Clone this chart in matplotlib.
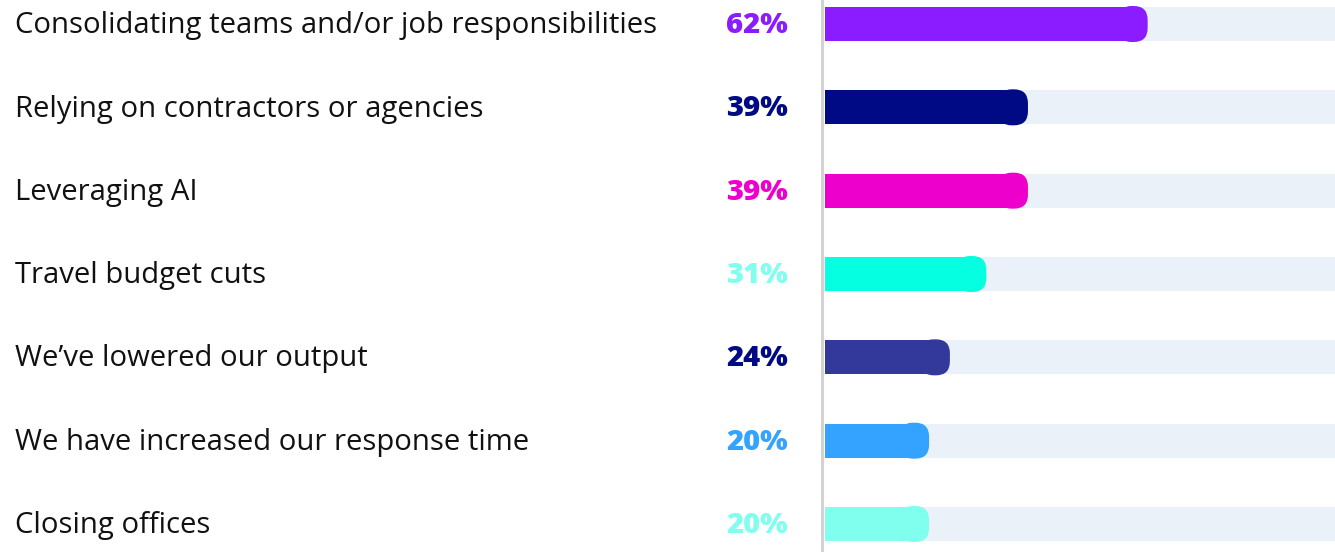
import matplotlib.pyplot as plt
from matplotlib.patches import Rectangle, FancyBboxPatch
from matplotlib.transforms import blended_transform_factory

categories = [
    "Consolidating teams and/or job responsibilities",
    "Relying on contractors or agencies",
    "Leveraging AI",
    "Travel budget cuts",
    "We\u2019ve lowered our output",
    "We have increased our response time",
    "Closing offices",
]
values = [62, 39, 39, 31, 24, 20, 20]
bar_colors = ["#8A1CFF", "#000A85", "#EE00CC", "#05FFE1", "#33399A", "#33A3FF", "#80FFEF"]
label_colors = ["#8A1CFF", "#000A85", "#EE00CC", "#80FFEF", "#000A85", "#33A3FF", "#80FFEF"]

track_color = "#EAF1F9"
W, H = 1335, 552

fig = plt.figure(figsize=(W / 100, H / 100), dpi=100)
ax = fig.add_axes([825 / W, 0, (W - 825) / W, 1])
ax.set_xlim(0, 98)
ax.set_ylim(6.336, -0.288)
ax.axis("off")

px_x = (W - 825) / 98          # pixels per x unit
px_y = H / (6.336 + 0.288)     # pixels per y unit
bar_h = 34 / px_y
cap_h = 36 / px_y
r = 14 / px_x                  # corner radius in x units
cap_w = 30 / px_x

for i, v in enumerate(values):
    # background track
    ax.add_patch(Rectangle((0, i - bar_h / 2), 100, bar_h, color=track_color, lw=0))
    # bar body + rounded end cap
    ax.add_patch(Rectangle((0, i - bar_h / 2), v - r, bar_h, color=bar_colors[i], lw=0))
    ax.add_patch(FancyBboxPatch((v - cap_w, i - cap_h / 2), cap_w, cap_h,
                                boxstyle=f"round,pad=0,rounding_size={r}",
                                mutation_aspect=px_x / px_y,
                                color=bar_colors[i], lw=0))

# divider line
fig.add_artist(plt.Line2D([822 / W, 822 / W], [0, 1], color="#D3D3D3", lw=2.2))

tr = blended_transform_factory(fig.transFigure, ax.transData)
for i, (cat, v) in enumerate(zip(categories, values)):
    ax.text(15 / W, i + 0.02, cat, transform=tr, ha="left", va="center",
            fontsize=21.1, family="Open Sans", color="#111111", clip_on=False)
    ax.text(788 / W, i + 0.02, f"{v}%", transform=tr, ha="right", va="center",
            fontsize=21, family="Open Sans", fontweight="heavy",
            color=label_colors[i], clip_on=False)

fig.savefig("out.png", dpi=100)
